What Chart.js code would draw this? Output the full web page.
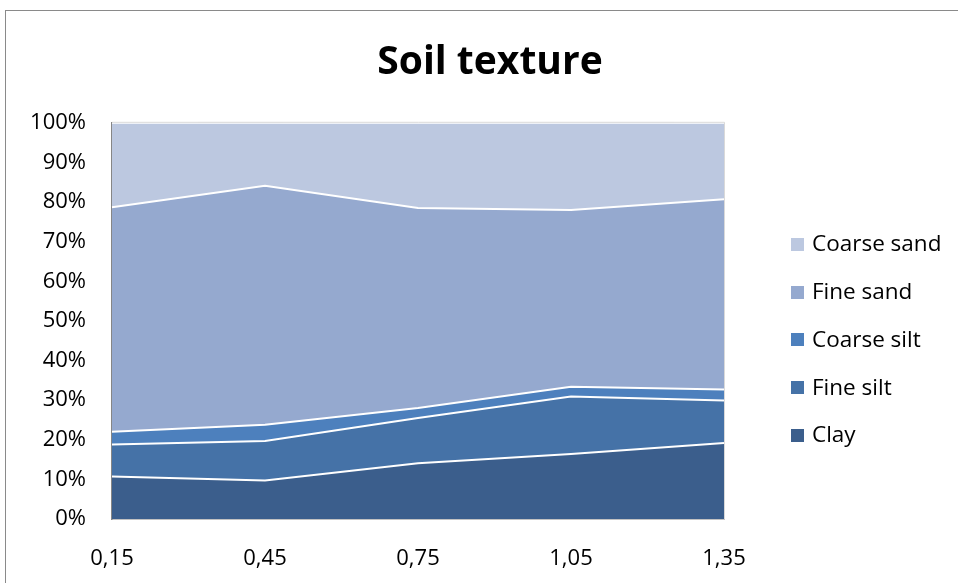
<!DOCTYPE html>
<html>
<head>
<meta charset="utf-8">
<script src="https://cdn.jsdelivr.net/npm/chart.js@4"></script>
<style>
  html,body{margin:0;padding:0;background:#fff;}
  #wrap{position:relative;width:958px;height:583px;overflow:hidden;font-family:"Open Sans",sans-serif;}
  #frame{position:absolute;left:5px;top:10px;width:1200px;height:1000px;border:1.5px solid #8a8a8a;box-sizing:border-box;}
  #chart{position:absolute;left:0;top:0;}
  #legend{position:absolute;left:791px;top:219px;}
  #legend .item{height:47.75px;display:flex;align-items:center;font-size:22.5px;color:#000;}
  #legend .box{width:13px;height:13px;margin:3px 8px 0 0;}
</style>
</head>
<body>
<div id="wrap">
  <div id="frame"></div>
  <canvas id="chart" width="958" height="583"></canvas>
  <div id="legend"></div>
</div>
<script>
// --- Date ---
const depths = ['0,15','0,45','0,75','1,05','1,35'];
const clay       = [10.7,  9.7, 14.1, 16.4, 19.2];
const fineSilt   = [ 8.1, 10.0, 11.4, 14.5, 10.7];
const coarseSilt = [ 3.2,  4.1,  2.5,  2.5,  2.8];
const fineSand   = [56.7, 60.3, 50.5, 44.6, 48.0];
const coarseSand = [21.3, 15.9, 21.5, 22.0, 19.3];

const FONT = '"Open Sans", sans-serif';

function serie(label, data, color, fill){
  return {label:label, data:data, backgroundColor:color, borderColor:'#ffffff',
          borderWidth:2, pointRadius:0, fill:fill, tension:0};
}

const datasets = [
  serie('Clay', clay, '#3b5e8c', 'origin'),
  serie('Fine silt', fineSilt, '#4572a7', '-1'),
  serie('Coarse silt', coarseSilt, '#4d80bd', '-1'),
  serie('Fine sand', fineSand, '#95a9cf', '-1'),
  serie('Coarse sand', coarseSand, '#bcc8e0', '-1')
];

// chenar discret sus/dreapta pe zona graficului
const plotEdge = {
  id:'plotEdge',
  afterDraw(chart){
    const a = chart.chartArea, c = chart.ctx;
    c.save();
    c.strokeStyle = '#d9d9d9';
    c.lineWidth = 1;
    c.beginPath();
    c.moveTo(a.left, a.top - 0.5);
    c.lineTo(a.right + 0.5, a.top - 0.5);
    c.lineTo(a.right + 0.5, a.bottom);
    c.stroke();
    c.restore();
  }
};

new Chart(document.getElementById('chart').getContext('2d'), {
  type:'line',
  data:{ labels: depths, datasets: datasets },
  options:{
    responsive:false,
    animation:false,
    layout:{padding:{left:22, right:0, top:0, bottom:0}},
    plugins:{
      title:{display:true, text:'Soil texture', color:'#000',
             font:{family:FONT, size:39, weight:'bold'}, padding:{top:39, bottom:37}},
      legend:{display:false},
      tooltip:{enabled:false}
    },
    scales:{
      x:{offset:false, grid:{display:false, drawTicks:false},
         border:{color:'#868686', width:1.5},
         ticks:{color:'#000', font:{family:FONT, size:22}, padding:27, maxRotation:0},
         afterFit:s=>{s.height=64;}},
      y:{stacked:true, min:0, max:100,
         grid:{display:false, drawTicks:false},
         border:{color:'#868686', width:1.5},
         ticks:{stepSize:10, color:'#000', font:{family:FONT, size:22}, padding:26, callback:v=>v+'%'},
         afterFit:s=>{s.width=90;}},
      gap:{position:'right', min:0, max:1, display:true,
           grid:{display:false, drawTicks:false}, border:{display:false},
           ticks:{display:false},
           afterFit:s=>{s.width=234;}}
    }
  },
  plugins:[plotEdge]
});

// legenda (ordine inversa, ca in original)
const leg = document.getElementById('legend');
datasets.slice().reverse().forEach(d=>{
  const it = document.createElement('div');
  it.className = 'item';
  it.innerHTML = `<span class="box" style="background:${d.backgroundColor}"></span><span>${d.label}</span>`;
  leg.appendChild(it);
});
</script>
</body>
</html>
